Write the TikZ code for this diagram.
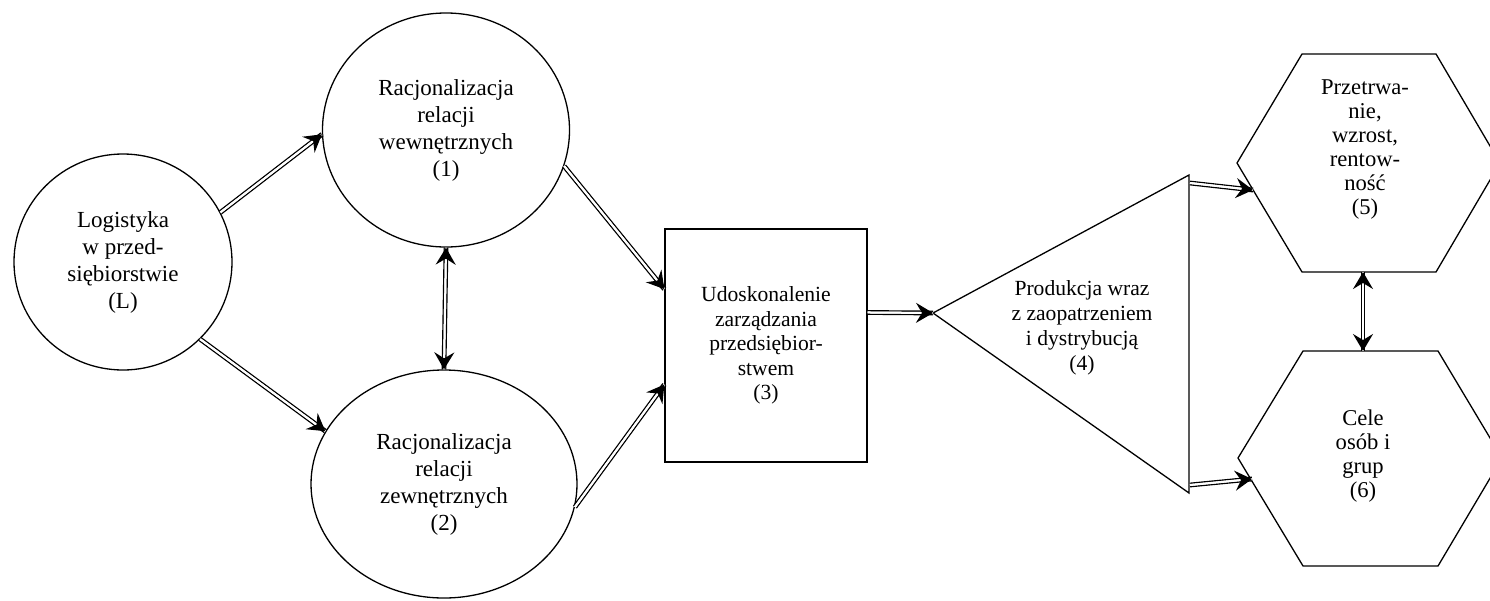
\documentclass[tikz,border=0pt]{standalone}
\usepackage{fontspec}
\setmainfont{Liberation Serif}
\usetikzlibrary{shapes.geometric,arrows.meta,calc}
\begin{document}
\begin{tikzpicture}[x=1pt,y=-1pt,
  shapeline/.style={draw=black, line width=1.3pt},
  circ/.style={shapeline, ellipse, inner sep=0pt, align=center, font=\fontsize{23}{27}\selectfont},
  boxnode/.style={shapeline, rectangle, inner sep=0pt, align=center, font=\fontsize{21.6}{24.5}\selectfont},
  trilbl/.style={align=center, inner sep=0pt, font=\fontsize{21.6}{25}\selectfont},
  hexlbl/.style={align=center, inner sep=0pt, font=\fontsize{22.6}{24}\selectfont},
  bigtip/.tip={Stealth[color=black, length=17pt, width=20pt, inset=6pt]},
  dbl/.style={double, double distance=2pt, line width=1.4pt,
    postaction={draw=white, line width=2pt, -bigtip}},
  dbltwo/.style={double, double distance=2pt, line width=1.4pt,
    postaction={draw=white, line width=2pt, bigtip-bigtip}},
]
\useasboundingbox (0,0) rectangle (1490,600);
\fill[white] (0,0) rectangle (1490,600);

% circles
\node[circ, minimum width=218pt, minimum height=216pt] (L) at (123,262)
  {Logistyka\\w przed-\\siębiorstwie\\(L)};
\node[circ, minimum width=247pt, minimum height=234pt] (C1) at (446,130)
  {Racjonalizacja\\relacji\\wewnętrznych\\(1)};
\node[circ, minimum width=266pt, minimum height=228pt] (C2) at (444,484)
  {Racjonalizacja\\relacji\\zewnętrznych\\(2)};

% box
\node[boxnode, minimum width=202pt, minimum height=233pt] (B) at (766,345.5)
  {Udoskonalenie\\zarządzania\\przedsiębior-\\stwem\\(3)};

% triangle
\coordinate (Ttip) at (933,313);
\coordinate (Ttop) at (1189,175);
\coordinate (Tbot) at (1189,493);
\draw[shapeline, line join=miter] (Ttip) -- (Ttop) -- (Tbot) -- cycle;
\node[trilbl] (T) at (1082,328) {Produkcja wraz\\z zaopatrzeniem\\i dystrybucją\\(4)};
\coordinate (T5) at (1190,183);
\coordinate (T6) at (1190,485);

% hexagon 5
\coordinate (H5w) at (1237,163);
\coordinate (H5nw) at (1302,54);
\coordinate (H5ne) at (1436,54);
\coordinate (H5e) at (1500,163);
\coordinate (H5se) at (1436,272);
\coordinate (H5sw) at (1302,272);
\draw[shapeline, line join=miter] (H5w) -- (H5nw) -- (H5ne) -- (H5e) -- (H5se) -- (H5sw) -- cycle;
\node[hexlbl] (H5) at (1365,150) {Przetrwa-\\nie,\\wzrost,\\rentow-\\ność\\(5)};
\coordinate (H5s) at (1363,272);
\coordinate (H5in) at (1253,190);

% hexagon 6
\coordinate (H6w) at (1238,458);
\coordinate (H6nw) at (1303,351);
\coordinate (H6ne) at (1438,351);
\coordinate (H6e) at (1502,458);
\coordinate (H6se) at (1438,566);
\coordinate (H6sw) at (1303,566);
\draw[shapeline, line join=miter] (H6w) -- (H6nw) -- (H6ne) -- (H6e) -- (H6se) -- (H6sw) -- cycle;
\node[hexlbl] (H6) at (1363,456) {Cele\\osób i\\grup\\(6)};
\coordinate (H6n) at (1363,351);
\coordinate (H6in) at (1252,479);

% connectors
\draw[dbl] (L.27) -- (C1.182);
\draw[dbl] (L.-45) -- (C2.156);
\draw[dbltwo] (C1.south) -- (C2.north);
\draw[dbl] (C1.-17) -- (B.151);
\draw[dbl] (C2.-10) -- (B.201);
\draw[dbl] (B.18) -- (Ttip);
\draw[dbl] (T5) -- (H5in);
\draw[dbl] (T6) -- (H6in);
\draw[dbltwo] (H5s) -- (H6n);
\end{tikzpicture}
\end{document}
